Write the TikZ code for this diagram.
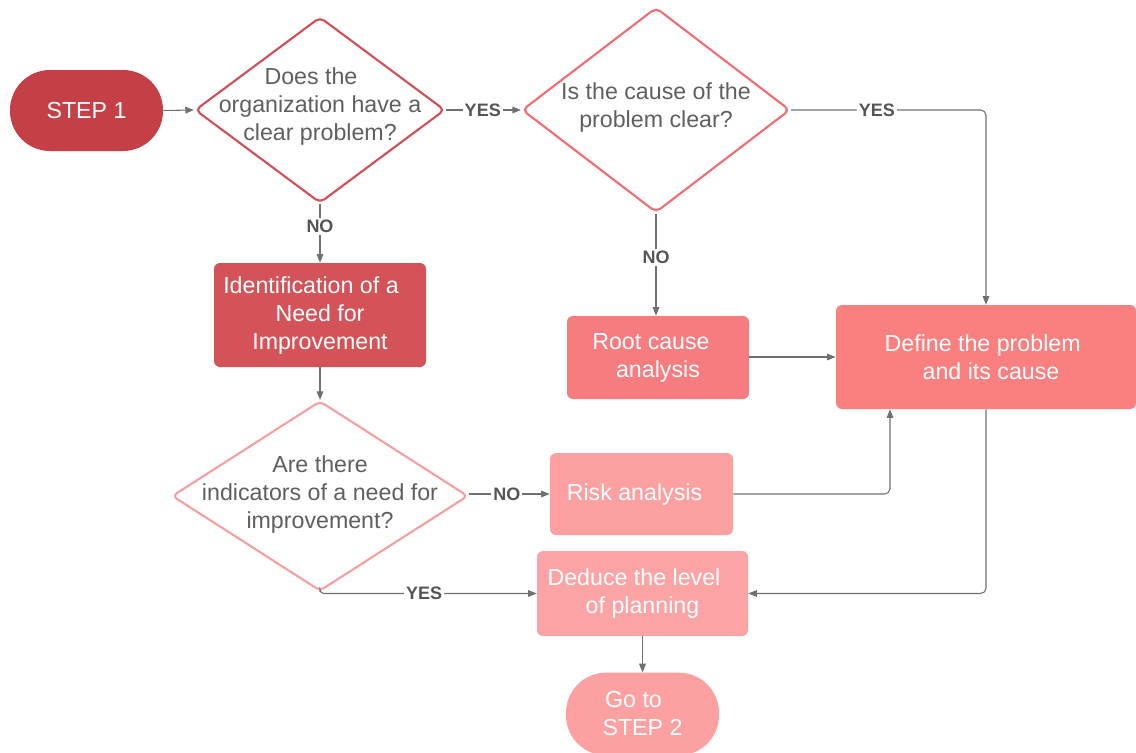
\documentclass[tikz,border=0pt]{standalone}
\usepackage{fontspec}
\setmainfont{Liberation Sans}
\usetikzlibrary{shapes.geometric,arrows.meta,calc}

\definecolor{stepdark}{HTML}{C54046}
\definecolor{qone}{HTML}{CF5058}
\definecolor{identfill}{HTML}{D45358}
\definecolor{qtwo}{HTML}{F06E73}
\definecolor{rootfill}{HTML}{F57D7F}
\definecolor{definefill}{HTML}{FA8080}
\definecolor{qthree}{HTML}{F5A0A0}
\definecolor{riskfill}{HTML}{FCA0A2}
\definecolor{deducefill}{HTML}{FCA4A5}
\definecolor{linegray}{HTML}{707070}
\definecolor{textgray}{HTML}{5F5F5F}
\definecolor{labelgray}{HTML}{555555}

% trailing / leading padding inside a centred line
\newcommand\padR[1]{\hspace*{#1}}
\newcommand\padL[1]{\hspace*{#1}}

\tikzset{
  txt/.style={font=\fontsize{17.4pt}{21pt}\selectfont, align=center},
  box/.style={rectangle, rounded corners=4.5pt, draw=none, text=white, txt, inner sep=0pt},
  pill/.style={rectangle, rounded corners=30pt, draw=none, text=white, txt, inner sep=0pt},
  question/.style={diamond, draw, line width=1.6pt, rounded corners=4pt, fill=white, inner sep=0pt},
  qtext/.style={txt, text=textgray},
  conn/.style={draw=linegray, line width=0.8pt, -{Triangle[length=6.5pt,width=5pt]}},
  lbl/.style={font=\fontsize{13.5pt}{14pt}\selectfont\bfseries, text=labelgray, fill=white, inner sep=1.5pt}
}

\begin{document}
\begin{tikzpicture}[x=0.75pt, y=-0.75pt]
\useasboundingbox (0,0) rectangle (1136,753);

% start terminal
\node[pill, fill=stepdark, minimum width=114.75pt, minimum height=60.75pt] (step1) at (86.5,110.5) {STEP 1};

% decision shapes
\node[question, draw=qone, minimum width=187.5pt, minimum height=139.5pt] (q1) at (320,110) {};
\node[qtext] (q1t) at (320,107) {Does the\padR{13.5pt}\\organization have a\\clear problem?};

\node[question, draw=qtwo, minimum width=201pt, minimum height=153.75pt] (q2) at (656,110) {};
\node[qtext] (q2t) at (656,108) {Is the cause of the\\problem clear?};

\node[question, draw=qthree, minimum width=222pt, minimum height=142.5pt] (q3) at (320,496) {};
\node[qtext] (q3t) at (320,494) {Are there\\indicators of a need for\\improvement?};

% process boxes
\node[box, fill=identfill, minimum width=159pt, minimum height=78pt] (ident) at (320,315) {Identification of a\padR{13.5pt}\\Need for\\Improvement};
\node[box, fill=rootfill, minimum width=136.5pt, minimum height=62.25pt] (root) at (658,357.5) {Root cause\padR{10.5pt}\\analysis};
\node[box, fill=definefill, minimum width=225pt, minimum height=78pt] (define) at (986,357) {Define the problem\padR{5pt}\\\padL{7.5pt}and its cause};
\node[box, fill=riskfill, minimum width=137.25pt, minimum height=61.5pt] (risk) at (641.5,494) {Risk analysis\padR{10.5pt}};
\node[box, fill=deducefill, minimum width=158.25pt, minimum height=63.75pt] (deduce) at (642.5,593.5) {Deduce the level\padR{12.75pt}\\of planning};

% end terminal
\node[pill, fill=riskfill, minimum width=114.75pt, minimum height=62pt] (step2) at (642.5,714) {Go to\padR{13.5pt}\\STEP 2};

% connectors
\draw[conn] (step1.east) -- (q1.west);
\draw[conn] (q1.east) -- node[lbl, pos=0.49] (yes1) {YES} (q2.west);
\draw[conn, rounded corners=4pt] (q2.east) -- node[lbl, pos=0.44] (yes2) {YES} (q2.east -| define.north) -- (define.north);
\draw[conn] (q1.south) -- node[lbl, pos=0.38] (no1) {NO} (ident.north);
\draw[conn] (q2.south) -- node[lbl, pos=0.43] (no2) {NO} (q2.south |- root.north);
\draw[conn] (root.east |- define.west) -- (define.west);
\draw[conn] (ident.south) -- (q3.north);
\draw[conn] (q3.east |- risk.west) -- node[lbl, pos=0.47] (no3) {NO} (risk.west);
\draw[conn, rounded corners=4pt] (risk.east) -| ($(define.south)+(-96,0)$);
\draw[conn, rounded corners=4pt] (define.south) |- (deduce.east);
\draw[conn, rounded corners=3pt] (q3.south) |- node[lbl, pos=0.74] (yes3) {YES} (deduce.west);
\draw[conn] (deduce.south) -- (step2.north);
\end{tikzpicture}
\end{document}
